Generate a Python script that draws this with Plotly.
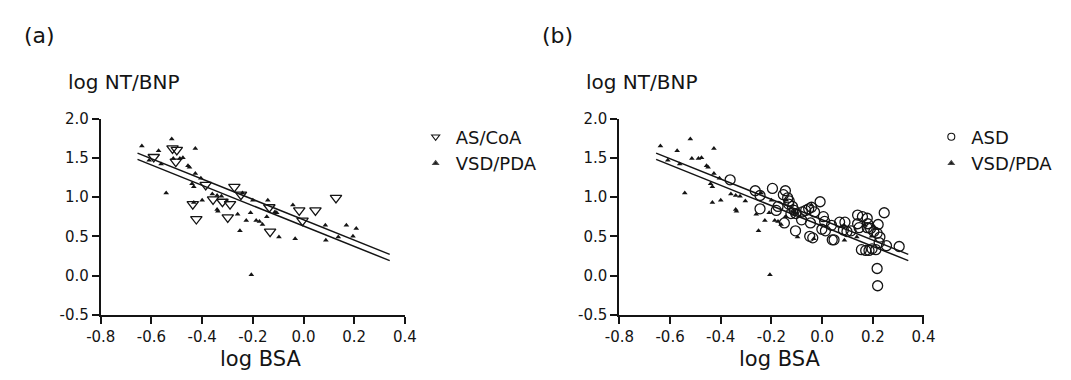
import plotly.graph_objects as go

# ---------------- data ----------------
ascoa_x = [-0.591, -0.517, -0.500, -0.504, -0.386, -0.273, -0.247, -0.437, -0.423,
           -0.357, -0.320, -0.290, -0.299, -0.135, -0.132, -0.017, 0.047, -0.004, 0.128]
ascoa_y = [1.51, 1.62, 1.60, 1.45, 1.155, 1.13, 1.03, 0.91, 0.72,
           0.97, 0.94, 0.91, 0.74, 0.87, 0.56, 0.83, 0.83, 0.70, 0.99]

vsd_x = [-0.638, -0.572, -0.520, -0.427, -0.609, -0.562, -0.514, -0.488, -0.476, -0.456,
         -0.450, -0.427, -0.405, -0.440, -0.433, -0.542, -0.433, -0.400, -0.360, -0.341,
         -0.324, -0.303, -0.341, -0.338, -0.260, -0.251, -0.226, -0.209, -0.206, -0.187,
         -0.174, -0.162, -0.200, -0.241, -0.145, -0.141, -0.113, -0.106, -0.097, -0.033,
         -0.042, 0.086, 0.088, 0.137, 0.169, 0.195, 0.208]
vsd_y = [1.65, 1.59, 1.74, 1.62, 1.47, 1.42, 1.49, 1.49, 1.50, 1.40,
         1.38, 1.30, 1.24, 1.17, 1.13, 1.05, 0.93, 0.96, 1.04, 1.02,
         1.01, 0.95, 0.84, 0.82, 0.78, 0.57, 0.70, 0.80, 0.01, 0.70,
         0.69, 0.65, 0.96, 1.05, 0.75, 0.96, 0.81, 0.80, 0.49, 0.47,
         0.90, 0.64, 0.45, 0.49, 0.64, 0.50, 0.60]

asd_x = [-0.363, -0.264, -0.245, -0.196, -0.245, -0.153, -0.145, -0.136, -0.130, -0.174,
         -0.181, -0.149, -0.132, -0.117, -0.110, -0.104, -0.123, -0.105, -0.081, -0.078,
         -0.065, -0.053, -0.042, -0.030, -0.046, -0.049, -0.037, -0.008, 0.005, 0.010,
         -0.001, 0.013, 0.037, 0.040, 0.047, 0.069, 0.090, 0.084, 0.098, 0.114,
         0.140, 0.140, 0.146, 0.159, 0.178, 0.180, 0.178, 0.191, 0.204, 0.217,
         0.221, 0.228, 0.225, 0.245, 0.254, 0.304, 0.155, 0.172, 0.185, 0.197,
         0.212, 0.217, 0.219]
asd_y = [1.22, 1.08, 1.02, 1.11, 0.85, 1.03, 1.08, 0.99, 0.95, 0.88,
         0.83, 0.67, 0.91, 0.88, 0.83, 0.79, 0.79, 0.57, 0.71, 0.81,
         0.83, 0.85, 0.87, 0.81, 0.67, 0.50, 0.48, 0.94, 0.75, 0.69,
         0.59, 0.57, 0.64, 0.455, 0.455, 0.68, 0.68, 0.58, 0.56, 0.57,
         0.77, 0.66, 0.61, 0.75, 0.73, 0.66, 0.61, 0.60, 0.56, 0.54,
         0.65, 0.49, 0.42, 0.80, 0.38, 0.37, 0.33, 0.32, 0.32, 0.34,
         0.33, 0.09, -0.13]

# regression lines (end points)
line_x = [-0.655, 0.34]
line_a_upper = [1.56, 0.27]
line_a_lower = [1.48, 0.19]
line_b_upper = [1.56, 0.27]
line_b_lower = [1.48, 0.19]

x_ticks = [-0.8, -0.6, -0.4, -0.2, 0.0, 0.2, 0.4]
x_tick_labels = ["-0.8", "-0.6", "-0.4", "-0.2", "0.0", "0.2", "0.4"]
y_ticks = [-0.5, 0.0, 0.5, 1.0, 1.5, 2.0]
y_tick_labels = ["-0.5", "0.0", "0.5", "1.0", "1.5", "2.0"]

# ---------------- figure ----------------
W, H = 1071, 380
INK = "#141414"
FONT = "DejaVu Sans"

fig = go.Figure()

def add_series(x, y, name, symbol, size, lw, xa, ya, leg, legend_size):
    # data marks
    fig.add_trace(go.Scatter(x=x, y=y, mode="markers", name=name, showlegend=False,
                             marker=dict(symbol=symbol, size=size, color=INK, line=dict(width=lw)),
                             xaxis=xa, yaxis=ya))
    # legend entry (smaller symbol, as in the original legend)
    fig.add_trace(go.Scatter(x=[None], y=[None], mode="markers", name=name, showlegend=True,
                             marker=dict(symbol=symbol, size=legend_size, color=INK, line=dict(width=1.1)),
                             xaxis=xa, yaxis=ya, legend=leg))

def add_line(x, y, xa, ya):
    fig.add_trace(go.Scatter(x=x, y=y, mode="lines", line=dict(color=INK, width=1.5),
                             showlegend=False, xaxis=xa, yaxis=ya, hoverinfo="skip"))

# Panel (a)
add_line(line_x, line_a_upper, "x", "y")
add_line(line_x, line_a_lower, "x", "y")
add_series(ascoa_x, ascoa_y, "AS/CoA", "triangle-down-open", 10, 1.3, "x", "y", "legend", 7)
add_series(vsd_x, vsd_y, "VSD/PDA", "triangle-up", 5, 0, "x", "y", "legend", 5)

# Panel (b)
add_line(line_x, line_b_upper, "x2", "y2")
add_line(line_x, line_b_lower, "x2", "y2")
add_series(asd_x, asd_y, "ASD", "circle-open", 10, 1.3, "x2", "y2", "legend2", 7)
add_series(vsd_x, vsd_y, "VSD/PDA", "triangle-up", 5, 0, "x2", "y2", "legend2", 5)

def px_x(p):
    return p / W

def px_y(p):
    return 1 - p / H

y_dom = [px_y(321), px_y(115)]
xa_dom = [px_x(88), px_x(400)]
xb_dom = [px_x(620), px_x(932)]

axis_common = dict(showline=True, linecolor=INK, linewidth=2, ticks="outside", ticklen=7,
                   tickwidth=1.5, tickcolor=INK, showgrid=False, zeroline=False,
                   tickfont=dict(family=FONT, size=15, color=INK), fixedrange=True)

fig.update_layout(
    width=W, height=H,
    margin=dict(l=0, r=0, t=0, b=0),
    paper_bgcolor="white", plot_bgcolor="white",
    font=dict(family=FONT, color=INK),
    xaxis=dict(domain=xa_dom, range=[-0.8, 0.4], tickvals=x_ticks, ticktext=x_tick_labels,
               anchor="y", **axis_common),
    yaxis=dict(domain=y_dom, range=[-0.5, 2.0], tickvals=y_ticks, ticktext=y_tick_labels,
               anchor="x", **axis_common),
    xaxis2=dict(domain=xb_dom, range=[-0.8, 0.4], tickvals=x_ticks, ticktext=x_tick_labels,
                anchor="y2", **axis_common),
    yaxis2=dict(domain=y_dom, range=[-0.5, 2.0], tickvals=y_ticks, ticktext=y_tick_labels,
                anchor="x2", **axis_common),
    legend=dict(x=px_x(411), y=px_y(115), xanchor="left", yanchor="top",
                font=dict(family=FONT, size=18, color=INK), bgcolor="rgba(0,0,0,0)",
                tracegroupgap=0, itemsizing="trace"),
    legend2=dict(x=px_x(940), y=px_y(115), xanchor="left", yanchor="top",
                 font=dict(family=FONT, size=18, color=INK), bgcolor="rgba(0,0,0,0)",
                 tracegroupgap=0, itemsizing="trace"),
)

annots = [
    dict(text="(a)", x=px_x(7), y=px_y(28), xanchor="left", yanchor="middle", size=22),
    dict(text="(b)", x=px_x(539), y=px_y(28), xanchor="left", yanchor="middle", size=22),
    dict(text="log NT/BNP", x=px_x(52), y=px_y(77), xanchor="left", yanchor="middle", size=20),
    dict(text="log NT/BNP", x=px_x(584), y=px_y(77), xanchor="left", yanchor="middle", size=20),
    dict(text="log BSA", x=px_x(252), y=px_y(367), xanchor="center", yanchor="middle", size=21),
    dict(text="log BSA", x=px_x(784), y=px_y(367), xanchor="center", yanchor="middle", size=21),
]
for a in annots:
    fig.add_annotation(text=a["text"], x=a["x"], y=a["y"], xref="paper", yref="paper",
                       xanchor=a["xanchor"], yanchor=a["yanchor"], showarrow=False,
                       font=dict(family=FONT, size=a["size"], color=INK))

fig.write_html("out.html")
